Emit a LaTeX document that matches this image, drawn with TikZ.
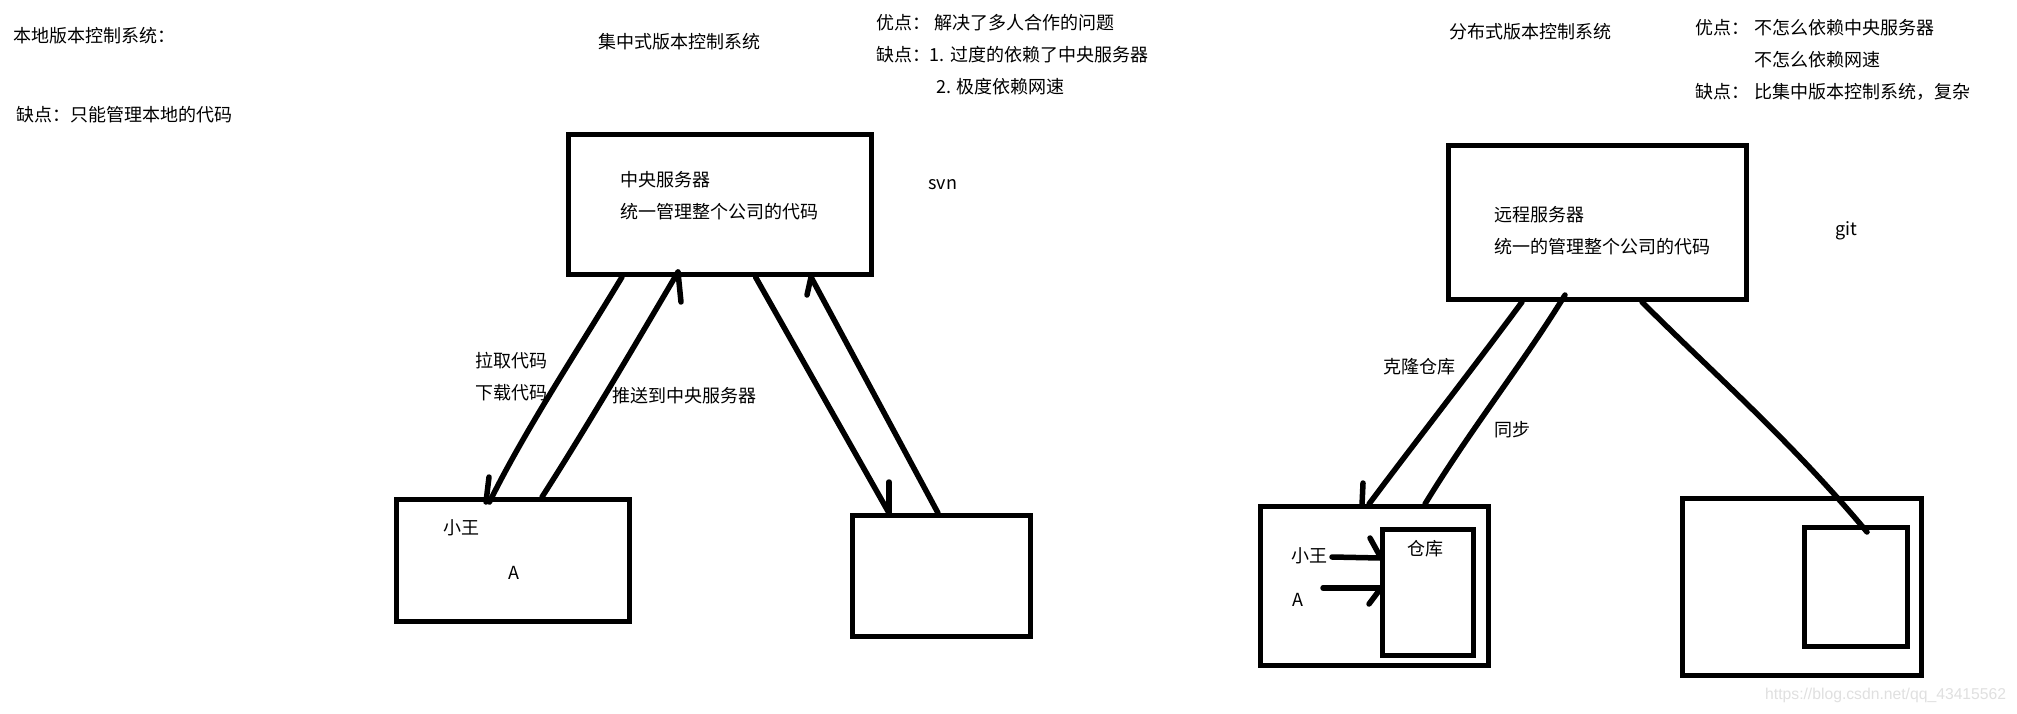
\documentclass[tikz,border=0pt]{standalone}
\usepackage{fontspec}
\setmainfont{Noto Sans CJK SC}
\newfontfamily\markfont{Liberation Sans}
\tikzset{
  boxnode/.style={draw=black,line width=5pt,inner sep=0pt,anchor=north west,fill=none},
  wire/.style={draw=black,line width=5.5pt,line cap=round},
  label/.style={anchor=west,inner sep=0pt,text=black,font=\fontsize{18pt}{20pt}\selectfont},
}
\newcommand{\boxat}[5]{\node[boxnode,minimum width=#4pt,minimum height=#5pt] (#1) at (#2,#3) {};}
\begin{document}
\begin{tikzpicture}[x=1pt,y=-1pt]
\useasboundingbox (0,0) rectangle (2017,713);
\fill[white] (0,0) rectangle (2017,713);

% boxes
\boxat{central}{565.5}{131.5}{303}{140}
\boxat{boxA}{393.5}{496.5}{233}{122}
\boxat{boxB}{849.5}{512.5}{178}{121}
\boxat{remote}{1445.5}{142.5}{298}{154}
\boxat{boxC}{1257.5}{503.5}{228}{159}
\boxat{repoC}{1379.5}{526.5}{91}{126}
\boxat{boxD}{1679.5}{495.5}{239}{177}
\boxat{repoD}{1801.5}{524.5}{103}{119}

% connector ends
\coordinate (p1) at (622,277);  \coordinate (q1) at (489.5,502);
\coordinate (b1) at (489,477);  \coordinate (c1) at (486,502);
\coordinate (p2) at (542,497);  \coordinate (q2) at (678,272);
\coordinate (b2) at (681,302);
\coordinate (p3) at (755.5,277);\coordinate (q3) at (889,513);
\coordinate (b3) at (889,482);
\coordinate (p4) at (938,513);  \coordinate (q4) at (811,277);
\coordinate (b4) at (807,295);
\coordinate (p5) at (1522,302); \coordinate (q5) at (1369,504);
\coordinate (b5) at (1363,483); \coordinate (c5) at (1362,505);
\coordinate (p6) at (1425,504); \coordinate (q6) at (1565,295);
\coordinate (p7) at (1642,302); \coordinate (q7) at (1867,532);
\coordinate (p8) at (1332,557); \coordinate (q8) at (1381,558);
\coordinate (b8) at (1370,538);
\coordinate (p9) at (1323,588); \coordinate (q9) at (1381,588);
\coordinate (b9) at (1369,604);

% connectors
\draw[wire] (p1) .. controls (578,350) and (525,430) .. (q1);
\draw[wire] (b1) -- (c1);
\draw[wire] (p2) .. controls (585,430) and (635,345) .. (q2);
\draw[wire] (b2) -- (q2);
\draw[wire] (p3) -- (q3);
\draw[wire] (b3) -- (q3);
\draw[wire] (p4) -- (q4);
\draw[wire] (b4) -- (q4);
\draw[wire] (p5) .. controls (1468,375) and (1413,445) .. (q5);
\draw[wire] (b5) -- (c5);
\draw[wire] (p6) .. controls (1470,430) and (1522,365) .. (q6);
\draw[wire] (p7) .. controls (1715,375) and (1790,440) .. (q7);
\draw[wire] (p8) -- (q8);
\draw[wire] (b8) -- (q8);
\draw[wire] (p9) -- (q9);
\draw[wire] (b9) -- (q9);

% texts
\node[label] (t1) at (13,36) {本地版本控制系统：};
\node[label] (t2) at (16,115) {缺点：只能管理本地的代码};
\node[label] (t3) at (598,42) {集中式版本控制系统};
\node[label] (t4) at (876,23) {优点：};
\node[label] (t5) at (934,23) {解决了多人合作的问题};
\node[label] (t6) at (876,55) {缺点：};
\node[label] (t7) at (929.5,55) {1. 过度的依赖了中央服务器};
\node[label] (t8) at (936,87) {2. 极度依赖网速};
\node[label] (t9) at (620,180) {中央服务器};
\node[label] (t10) at (620,212) {统一管理整个公司的代码};
\node[label] (t11) at (928,185) {svn};
\node[label] (t12) at (475,361) {拉取代码};
\node[label] (t13) at (475,393) {下载代码};
\node[label] (t14) at (612,396) {推送到中央服务器};
\node[label] (t15) at (443,528) {小王};
\node[label] (t16) at (508,573) {A};
\node[label] (t17) at (1449,32) {分布式版本控制系统};
\node[label] (t18) at (1695,28) {优点：};
\node[label] (t19) at (1754,28) {不怎么依赖中央服务器};
\node[label] (t20) at (1754,60) {不怎么依赖网速};
\node[label] (t21) at (1695,92) {缺点：};
\node[label] (t22) at (1754,92) {比集中版本控制系统，复杂};
\node[label] (t23) at (1494,215) {远程服务器};
\node[label] (t24) at (1494,247) {统一的管理整个公司的代码};
\node[label] (t25) at (1835,231) {git};
\node[label] (t26) at (1383,367) {克隆仓库};
\node[label] (t27) at (1494,430) {同步};
\node[label] (t28) at (1407,549) {仓库};
\node[label] (t29) at (1291,556) {小王};
\node[label] (t30) at (1292,600) {A};
\node[anchor=west,inner sep=0pt,text=black!12,font=\markfont\fontsize{15.7pt}{18pt}\selectfont] (t31) at (1765,695) {https://blog.csdn.net/qq\_43415562};
\end{tikzpicture}
\end{document}
